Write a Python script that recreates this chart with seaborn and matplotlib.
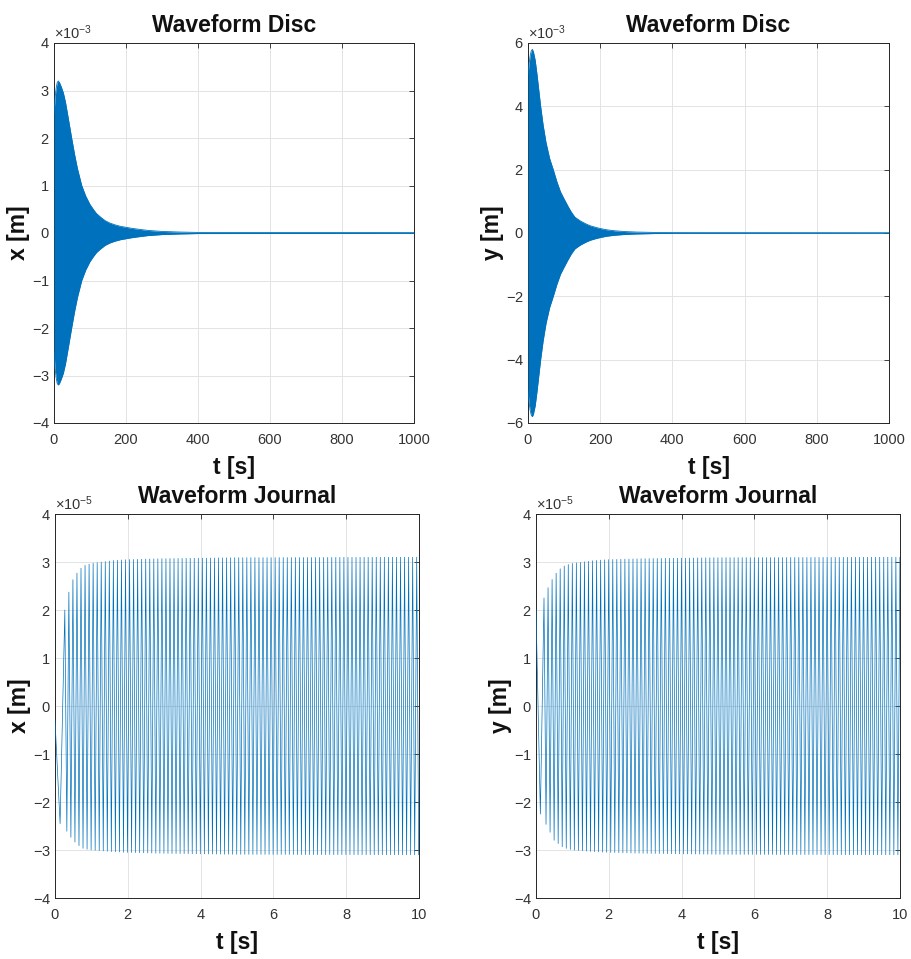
import numpy as np
import pandas as pd
import matplotlib
matplotlib.use("Agg")
import matplotlib.pyplot as plt
import seaborn as sns

# ---------------- data ----------------
# Disc x envelope (units 1e-3 m) vs time [s]
disc_x_t = [0, 3, 6, 9, 12, 15, 20, 26, 32, 40, 49, 57, 65, 77, 88, 100, 110, 118, 130, 142,
            155, 170, 185, 200, 215, 229, 260, 300, 350, 400, 1000]
disc_x_env = [2.5, 2.85, 3.05, 3.17, 3.2, 3.17, 3.08, 2.95, 2.75, 2.4, 2.0, 1.66, 1.36, 1.0,
              0.78, 0.6, 0.49, 0.41, 0.33, 0.26, 0.21, 0.17, 0.14, 0.12, 0.1, 0.085, 0.055,
              0.033, 0.02, 0.012, 0.008]
# Disc y envelope (units 1e-3 m)
disc_y_t = [0, 3, 6, 9, 12, 15, 20, 25, 30, 35, 42, 50, 60, 70, 80, 90, 98, 110, 120, 130,
            145, 160, 172, 190, 205, 219, 240, 270, 300, 350, 400, 1000]
disc_y_env = [5.0, 5.35, 5.6, 5.75, 5.8, 5.72, 5.45, 5.0, 4.5, 4.0, 3.4, 2.85, 2.35, 2.0, 1.62,
              1.3, 1.12, 0.86, 0.66, 0.5, 0.38, 0.29, 0.23, 0.17, 0.13, 0.1, 0.07, 0.045,
              0.03, 0.018, 0.012, 0.008]

# Journal x (units 1e-5 m): start transient, upper / lower envelopes
jx_start_t = [0.0, 0.14]
jx_start_v = [-0.3, -2.45]
jx_up_t = [0.27, 0.35, 0.5, 0.65, 0.78, 1.0, 1.3, 1.6, 2.0, 3.0, 5.0, 10.0]
jx_up = [2.0, 2.3, 2.65, 2.82, 2.92, 2.97, 3.0, 3.03, 3.05, 3.07, 3.09, 3.1]
jx_lo_t = [0.14, 0.23, 0.45, 0.6, 0.78, 1.0, 1.5, 2.0, 3.0, 5.0, 10.0]
jx_lo = [-2.45, -2.5, -2.75, -2.88, -2.97, -3.0, -3.03, -3.05, -3.07, -3.09, -3.1]

# Journal y (units 1e-5 m)
jy_start_t = [0.0, 0.12]
jy_start_v = [2.0, -2.25]
jy_up_t = [0.22, 0.35, 0.5, 0.65, 0.8, 1.0, 1.3, 1.6, 2.0, 3.0, 5.0, 10.0]
jy_up = [2.25, 2.5, 2.72, 2.85, 2.93, 2.97, 3.0, 3.03, 3.05, 3.07, 3.09, 3.1]
jy_lo_t = [0.12, 0.3, 0.5, 0.75, 1.0, 1.5, 2.0, 3.0, 5.0, 10.0]
jy_lo = [-2.25, -2.5, -2.8, -2.95, -3.0, -3.03, -3.05, -3.07, -3.09, -3.1]

journal_freq = 9.0

titles = ["Waveform Disc", "Waveform Disc", "Waveform Journal", "Waveform Journal"]
ylabels = ["x [m]", "y [m]", "x [m]", "y [m]"]
xlabel = "t [s]"

# ---------------- style ----------------
sns.set_theme(style="white")
plt.rcParams["font.family"] = ["Liberation Sans", "DejaVu Sans"]
plt.rcParams["mathtext.fontset"] = "custom"
plt.rcParams["mathtext.rm"] = "Liberation Sans"
plt.rcParams["mathtext.it"] = "Liberation Sans:italic"
plt.rcParams["axes.unicode_minus"] = False

BLUE = "#0072BD"
TXT = "#333333"

fig = plt.figure(figsize=(9.12, 9.59), dpi=100)
W, H = 912, 959
boxes = [(54, 43, 414, 423), (528, 43, 889, 423), (55, 514, 419, 898), (536, 514, 900, 898)]
axes = []
for (l, t, r, b) in boxes:
    axes.append(fig.add_axes([l / W, 1 - b / H, (r - l) / W, (b - t) / H]))


def journal_series(start_t, start_v, up_t, up, lo_t, lo, f):
    t_first = up_t[0]
    tt = list(start_t)
    vv = list(start_v)
    k = 0
    while True:
        tp = t_first + k / f
        if tp > 10:
            break
        tt.append(tp)
        vv.append(np.interp(tp, up_t, up))
        tl = tp + 0.5 / f
        if tl <= 10:
            tt.append(tl)
            vv.append(np.interp(tl, lo_t, lo))
        k += 1
    return pd.DataFrame({"t": tt, "v": np.array(vv) * 1e-5})


# Disc plots
for ax, tarr, env in [(axes[0], disc_x_t, disc_x_env), (axes[1], disc_y_t, disc_y_env)]:
    df = pd.DataFrame({"t": tarr, "up": np.array(env) * 1e-3, "lo": -np.array(env) * 1e-3})
    ax.fill_between(df["t"], df["lo"], df["up"], color=BLUE, lw=0, zorder=3)
    sns.lineplot(data=df, x="t", y="up", ax=ax, color=BLUE, lw=0.6, zorder=3)
    sns.lineplot(data=df, x="t", y="lo", ax=ax, color=BLUE, lw=0.6, zorder=3)

# Journal plots
dfx = journal_series(jx_start_t, jx_start_v, jx_up_t, jx_up, jx_lo_t, jx_lo, journal_freq)
dfy = journal_series(jy_start_t, jy_start_v, jy_up_t, jy_up, jy_lo_t, jy_lo, journal_freq)
sns.lineplot(data=dfx, x="t", y="v", ax=axes[2], color=BLUE, lw=0.5, sort=False, estimator=None, zorder=3)
sns.lineplot(data=dfy, x="t", y="v", ax=axes[3], color=BLUE, lw=0.5, sort=False, estimator=None, zorder=3)

# ---------------- axes formatting ----------------
limits = [((0, 1000), (-4e-3, 4e-3), 200, 1e-3),
          ((0, 1000), (-6e-3, 6e-3), 200, 2e-3),
          ((0, 10), (-4e-5, 4e-5), 2, 1e-5),
          ((0, 10), (-4e-5, 4e-5), 2, 1e-5)]
for ax, (xl, yl, dx, dy), ttl, yl_txt in zip(axes, limits, titles, ylabels):
    ax.set_xlim(*xl)
    ax.set_ylim(*yl)
    ax.set_xticks(np.arange(xl[0], xl[1] + dx / 2, dx))
    ax.set_yticks(np.arange(yl[0], yl[1] + dy / 2, dy))
    ax.ticklabel_format(style="sci", axis="y", scilimits=(0, 0), useMathText=True)
    ax.yaxis.get_offset_text().set_fontsize(10.5)
    ax.yaxis.get_offset_text().set_color("#555555")
    ax.grid(True, color="#e3e3e3", lw=0.7, zorder=0)
    ax.set_axisbelow(True)
    for s in ax.spines.values():
        s.set_color("#262626")
        s.set_linewidth(0.7)
    ax.tick_params(direction="in", length=3.5, width=0.6, colors="#262626",
                   labelsize=10.5, labelcolor=TXT, top=True, right=True)
    ax.tick_params(axis="x", pad=7)
    ax.tick_params(axis="y", pad=3)
    ax.set_title(ttl, fontsize=16.5, fontweight="bold", color="#111111", pad=8)
    ax.set_xlabel(xlabel, fontsize=16.5, fontweight="bold", color="#111111", labelpad=7)
    ax.set_ylabel(yl_txt, fontsize=16.5, fontweight="bold", color="#111111", labelpad=1)

fig.savefig("out.png", dpi=100, facecolor="white")
